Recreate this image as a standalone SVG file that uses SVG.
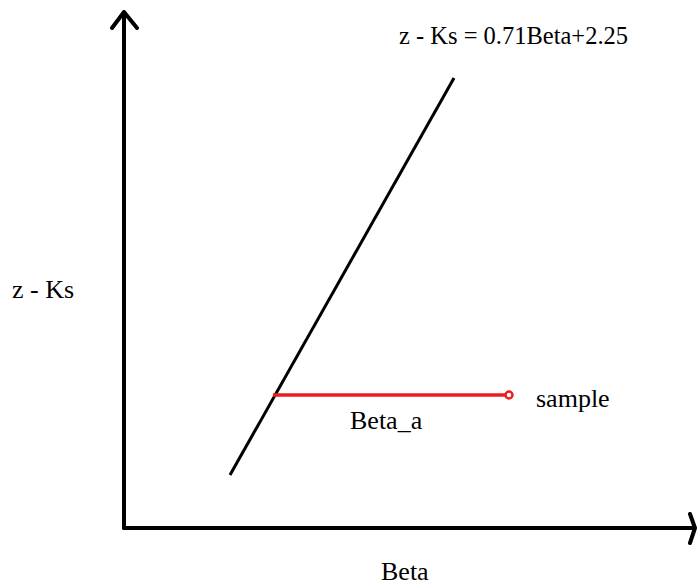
<svg xmlns="http://www.w3.org/2000/svg" width="697" height="588" viewBox="0 0 697 588">
<style>
.t{font-family:"Liberation Serif","Times New Roman",serif;font-size:26px;fill:#000}
.eq{font-size:24.5px}
.ax{stroke:#000;stroke-width:4;fill:none;stroke-linecap:round;stroke-linejoin:round}
</style>
<rect width="697" height="588" fill="#fff"/>
<g id="connectors">
<path class="ax" d="M124,528 V12 M112,28 L124,12 L137,28"/>
<path class="ax" d="M124,528 H695 M690,514 L695,528 L690,543"/>
<path d="M230,475 L454,78" stroke="#000" stroke-width="3" fill="none"/>
<path d="M273,395 H505" stroke="#ed1c24" stroke-width="3.5" fill="none"/>
<circle cx="509" cy="395" r="3.5" fill="#fff" stroke="#ed1c24" stroke-width="2.5"/>
</g>
<g id="labels">
<text class="t eq" x="399" y="44">z - Ks = 0.71Beta+2.25</text>
<text class="t" x="536" y="407">sample</text>
<text class="t" x="350" y="429">Beta_a</text>
<text class="t" x="12" y="298">z - Ks</text>
<text class="t" x="381" y="580">Beta</text>
</g>
</svg>
